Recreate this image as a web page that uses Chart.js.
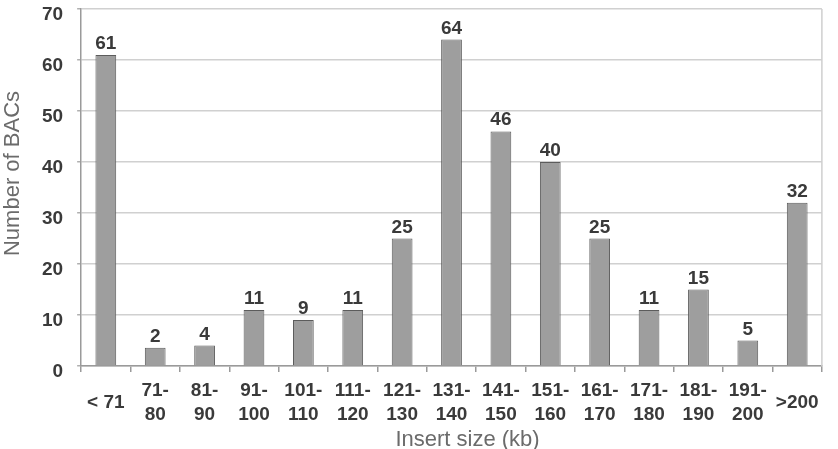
<!DOCTYPE html>
<html>
<head>
<meta charset="utf-8">
<script src="https://cdn.jsdelivr.net/npm/chart.js@4/dist/chart.umd.min.js"></script>
<style>
  html, body { margin: 0; padding: 0; background: #ffffff; }
  #wrap { width: 838px; height: 449px; position: relative; }
</style>
</head>
<body>
<div id="wrap"><canvas id="c" width="838" height="449"></canvas></div>
<script>
// ---- data ----
const categories = [
  ['< 71'], ['71-', '80'], ['81-', '90'], ['91-', '100'], ['101-', '110'],
  ['111-', '120'], ['121-', '130'], ['131-', '140'], ['141-', '150'], ['151-', '160'],
  ['161-', '170'], ['171-', '180'], ['181-', '190'], ['191-', '200'], ['>200']
];
// bar heights as drawn in the picture
const barHeights = [61, 3.6, 4, 11, 9, 11, 25, 64, 46, 40, 25, 11, 15, 5, 32];
// numbers printed above the bars
const valueLabels = ['61', '2', '4', '11', '9', '11', '25', '64', '46', '40', '25', '11', '15', '5', '32'];
const yTicks = [0, 10, 20, 30, 40, 50, 60, 70];
const xTitle = 'Insert size (kb)';
const yTitle = 'Number of BACs';

const FONT = '"Liberation Sans", Arial, Helvetica, sans-serif';

const overlay = {
  id: 'overlay',
  beforeDatasetsDraw(chart) {
    const ctx = chart.ctx, a = chart.chartArea;
    ctx.save();
    ctx.strokeStyle = '#cfcfcf';
    ctx.lineWidth = 1.5;
    ctx.beginPath();
    ctx.moveTo(a.right, a.top);
    ctx.lineTo(a.right, a.bottom);
    ctx.stroke();
    ctx.restore();
  },
  afterDatasetsDraw(chart) {
    const ctx = chart.ctx, a = chart.chartArea;
    const meta = chart.getDatasetMeta(0);
    ctx.save();
    ctx.font = 'bold 19px ' + FONT;
    ctx.fillStyle = '#3a3a3a';
    ctx.textAlign = 'center';
    ctx.textBaseline = 'alphabetic';
    meta.data.forEach((bar, i) => {
      ctx.fillText(valueLabels[i], bar.x, bar.y - 6);
    });
    // axis titles
    ctx.font = '22px ' + FONT;
    ctx.fillStyle = '#6b6b6b';
    ctx.textBaseline = 'middle';
    ctx.fillText(xTitle, (a.left + a.right) / 2 + 16, 440);
    ctx.translate(13, (a.top + a.bottom) / 2 - 14);
    ctx.rotate(-Math.PI / 2);
    ctx.fillText(yTitle, 0, 0);
    ctx.restore();
  }
};

new Chart(document.getElementById('c'), {
  type: 'bar',
  data: {
    labels: categories,
    datasets: [{
      data: barHeights,
      backgroundColor: '#9e9e9e',
      borderColor: '#5c5c5c',
      borderWidth: 1,
      categoryPercentage: 1,
      barPercentage: 0.42
    }]
  },
  options: {
    responsive: false,
    animation: false,
    devicePixelRatio: 1,
    layout: { padding: { left: 28, right: 12, top: 9, bottom: 8 } },
    plugins: { legend: { display: false }, tooltip: { enabled: false } },
    scales: {
      x: {
        offset: true,
        afterFit(scale) { scale.height = 75; },
        grid: { drawOnChartArea: false, drawTicks: true, tickLength: 6, tickColor: '#9a9a9a', offset: true, lineWidth: 1.5 },
        border: { display: true, color: '#9a9a9a', width: 1.5 },
        ticks: {
          font: { family: FONT, size: 19, weight: 'bold', lineHeight: 1.263 },
          color: '#3a3a3a',
          padding: 19,
          maxRotation: 0,
          autoSkip: false,
          crossAlign: 'center'
        }
      },
      y: {
        min: 0,
        max: 70,
        afterBuildTicks(scale) { scale.ticks = yTicks.map(v => ({ value: v })); },
        afterFit(scale) { scale.paddingTop = 0; scale.paddingBottom = 0; },
        grid: { color: '#d0d0d0', lineWidth: 1.5, tickLength: 4, tickColor: '#b0b0b0' },
        border: { display: true, color: '#9a9a9a', width: 1.5 },
        ticks: {
          font: { family: FONT, size: 19, weight: 'bold', lineHeight: 1 },
          color: '#3a3a3a',
          padding: 14,
          labelOffset: 6
        }
      }
    }
  },
  plugins: [overlay]
});
</script>
</body>
</html>
